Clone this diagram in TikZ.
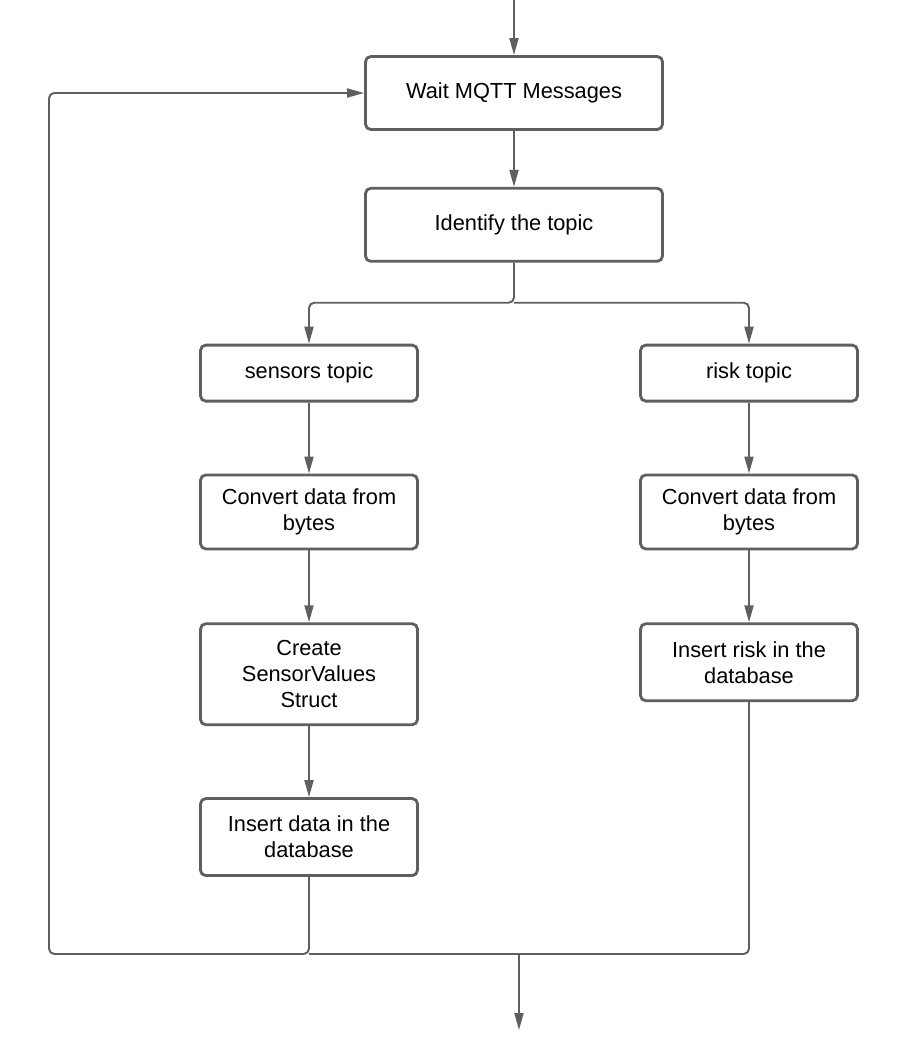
\documentclass[tikz,border=0pt]{standalone}
\usepackage{fontspec}
\setmainfont{Liberation Sans}
\usetikzlibrary{positioning,arrows.meta}
\definecolor{flowgray}{RGB}{95,95,95}

\begin{document}
\begin{tikzpicture}[
        box/.style={draw=flowgray, line width=1.6pt, rounded corners=3pt, align=center, inner sep=2pt, font=\fontsize{12.4}{14.8}\selectfont},
        wide/.style={box, minimum width=5.94cm, minimum height=1.46cm},
        narrow/.style={box, minimum width=4.34cm},
        flow/.style={draw=flowgray, line width=1.1pt, rounded corners=3pt},
        go/.style={flow, -{Triangle[length=3.4mm,width=1.8mm]}}
    ]
        \useasboundingbox (0,0) rectangle (18.06,-20.9);

        \node[wide] (wait) at (10.28,-1.86) {Wait MQTT Messages};
        \node[wide, below=1.12cm of wait] (topic) {Identify the topic};

        \node[narrow, minimum height=1.12cm, below=1.62cm of topic, xshift=-4.1cm] (sensors) {sensors topic};
        \node[narrow, minimum height=1.48cm, below=1.42cm of sensors] (sconvert) {Convert data from\\bytes};
        \node[narrow, minimum height=2.02cm, below=1.44cm of sconvert] (struct) {Create\\SensorValues\\Struct};
        \node[narrow, minimum height=1.54cm, below=1.42cm of struct] (sinsert) {Insert data in the\\database};

        \node[narrow, minimum height=1.12cm, below=1.62cm of topic, xshift=4.7cm] (risk) {risk topic};
        \node[narrow, minimum height=1.48cm, below=1.42cm of risk] (rconvert) {Convert data from\\bytes};
        \node[narrow, minimum height=1.54cm, below=1.44cm of rconvert] (rinsert) {Insert risk in the\\database};

        \coordinate (start) at (10.28,0);
        \coordinate[below=0.8cm of topic.south] (split);
        \coordinate (loop) at (0.98,-19.08);
        \coordinate (merge) at (10.38,-19.08);
        \coordinate (finish) at (10.38,-20.6);

        \draw[go] (start) -- (wait);
        \draw[go] (wait) -- (topic);
        \draw[go] (topic.south) -- (split) -| (sensors);
        \draw[go] (split) -| (risk);
        \draw[go] (sensors) -- (sconvert);
        \draw[go] (sconvert) -- (struct);
        \draw[go] (struct) -- (sinsert);
        \draw[go] (risk) -- (rconvert);
        \draw[go] (rconvert) -- (rinsert);
        \draw[go] (sinsert) |- (loop) |- (wait);
        \draw[flow] (rinsert) |- (sinsert.south |- loop);
        \draw[go] (merge) -- (finish);
    \end{tikzpicture}
\end{document}
